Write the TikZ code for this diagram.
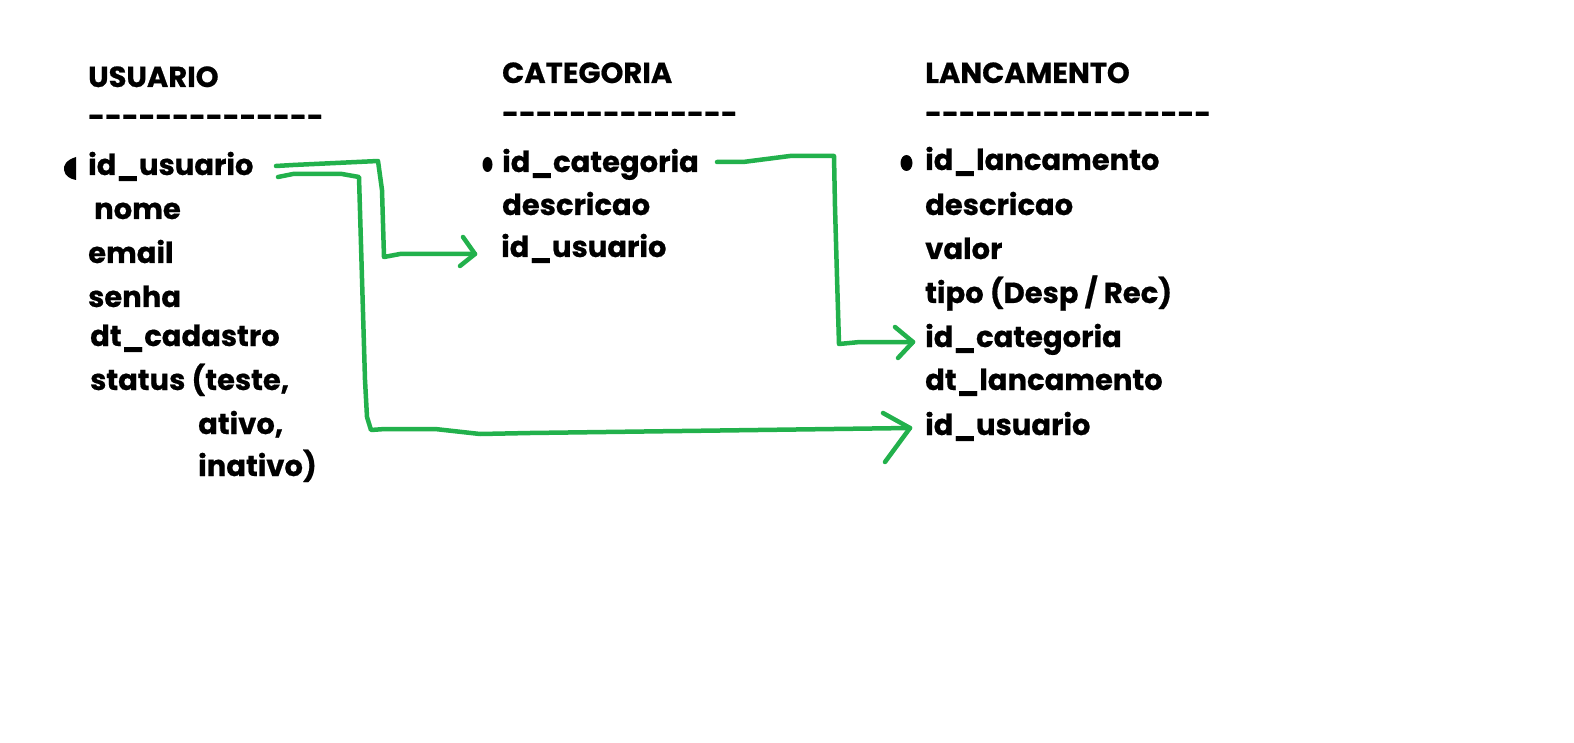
\documentclass[tikz,border=0pt]{standalone}
\usepackage{fontspec}
\setmainfont{Poppins}[Ligatures=TeXOff,BoldFeatures={FakeBold=0.6}]
\definecolor{pgreen}{HTML}{22B14C}
\begin{document}
\begin{tikzpicture}[x=1pt,y=-1pt,
  fld/.style={anchor=base west,inner sep=0pt,font=\bfseries\fontsize{29}{29}\selectfont},
  dsh/.style={anchor=base west,inner sep=0pt,font=\bfseries\fontsize{29}{29}\selectfont},
  link/.style={draw=pgreen,line width=4.5pt,line join=round,line cap=round},
  blob/.style={fill=black}]
\useasboundingbox (0,0) rectangle (1574,743);
\fill[white] (0,0) rectangle (1574,743);
% USUARIO
\node[fld] (uT) at (88,87) {USUARIO};
\node[dsh] (uD) at (88,127) {--------------};
\node[fld] (uId) at (88,175) {id\_usuario};
\node[fld] (uNome) at (94,219) {nome};
\node[fld] (uEmail) at (88,263) {email};
\node[fld] (uSenha) at (88,307) {senha};
\node[fld] (uDt) at (90,346) {dt\_cadastro};
\node[fld] (uSt) at (90,390) {status (teste,};
\node[fld] (uSt2) at (198,434) {ativo,};
\node[fld] (uSt3) at (198,476) {inativo)};
% CATEGORIA
\node[fld] (cT) at (502,83) {CATEGORIA};
\node[dsh] (cD) at (502,124) {--------------};
\node[fld] (cId) at (502,172) {id\_categoria};
\node[fld] (cDesc) at (502,215) {descricao};
\node[fld] (cUs) at (501,257) {id\_usuario};
% LANCAMENTO
\node[fld] (lT) at (925,83) {LANCAMENTO};
\node[dsh] (lD) at (925,124) {-----------------};
\node[fld] (lId) at (925,170) {id\_lancamento};
\node[fld] (lDesc) at (925,215) {descricao};
\node[fld] (lVal) at (925,259) {valor};
\node[fld] (lTipo) at (925,303) {tipo (Desp / Rec)};
\node[fld] (lCat) at (925,347) {id\_categoria};
\node[fld] (lDt) at (925,390) {dt\_lancamento};
\node[fld] (lUs) at (925,435) {id\_usuario};
% key blobs
\fill[blob] (76,157) .. controls (66,160) and (63,166) .. (64,170) .. controls (65,176) and (70,179) .. (76,180) -- cycle;
\fill[blob] (487.5,164.5) ellipse (5pt and 7.5pt);
\fill[blob] (906.5,163) ellipse (6pt and 8pt);
% connectors
\coordinate (a1) at (276,166);
\coordinate (a1e) at (475,254);
\draw[link] (a1) -- (293,165) -- (378,161) -- (382,190) -- (384,257) -- (400,254) -- (a1e);
\draw[link] (463,237) -- (a1e) -- (460,266);
\coordinate (a2) at (278,177);
\coordinate (a2e) at (910,428);
\draw[link] (a2) -- (293,174) -- (342,174) -- (359,177) -- (365,380) -- (367,417) -- (371,430) -- (385,429) -- (435,429) -- (480,434) -- (530,433) -- (a2e);
\draw[link] (883,413) -- (a2e) -- (885,462);
\coordinate (a3) at (717,162);
\coordinate (a3e) at (913,342);
\draw[link] (a3) -- (743,162) -- (790,156) -- (834,156) -- (835,207) -- (837,277) -- (839,344) -- (860,342) -- (a3e);
\draw[link] (895,327) -- (a3e) -- (898,358);
\end{tikzpicture}
\end{document}
